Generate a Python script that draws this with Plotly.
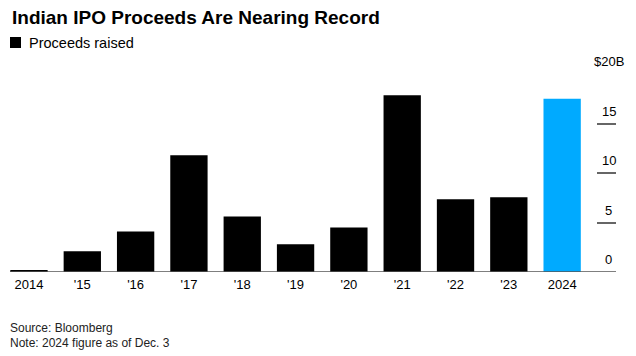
import plotly.graph_objects as go

years = ["2014", "'15", "'16", "'17", "'18", "'19", "'20", "'21", "'22", "'23", "2024"]
proceeds = [0.2, 2.1, 4.1, 11.8, 5.6, 2.8, 4.5, 17.85, 7.35, 7.55, 17.5]
colors = ["#000000"] * 10 + ["#00AAFF"]
y_ticks = [0, 5, 10, 15, 20]
y_ticktext = ["0", "5", "10", "15", "$20B"]

FONT = "Liberation Sans, Arial, sans-serif"
x_idx = list(range(len(years)))

fig = go.Figure()
fig.add_trace(go.Bar(
    x=x_idx, y=proceeds, marker=dict(color=colors, line=dict(width=0)),
    width=0.7, name="Proceeds raised", showlegend=False,
))

# page body has 8px margin: figure is offset by 8px
annotations = [
    dict(text="<b>Indian IPO Proceeds Are Nearing Record</b>", xref="paper", yref="paper",
         x=0.0, y=1, xanchor="left", yanchor="middle",
         yshift=(74 - 17), showarrow=False, font=dict(size=19, color="#000000", family=FONT)),
    dict(text="Proceeds raised", xref="paper", yref="paper",
         x=0.0, y=1, xanchor="left", yanchor="middle", xshift=17,
         yshift=(74 - 43), showarrow=False, font=dict(size=14.5, color="#000000", family=FONT)),
    dict(text="Source: Bloomberg", xref="paper", yref="paper",
         x=0.0, y=0, xanchor="left", yanchor="middle", xshift=-2,
         yshift=-(328 - 272), showarrow=False, font=dict(size=12, color="#222222", family=FONT)),
    dict(text="Note: 2024 figure as of Dec. 3", xref="paper", yref="paper",
         x=0.0, y=0, xanchor="left", yanchor="middle", xshift=-2,
         yshift=-(343 - 272), showarrow=False, font=dict(size=12, color="#222222", family=FONT)),
]
for v, t in zip(y_ticks, y_ticktext):
    annotations.append(dict(
        text=t, xref="paper", yref="y", x=1, y=v, xanchor="center", yanchor="middle",
        xshift=-7.5, yshift=12.5, showarrow=False,
        font=dict(size=13, color="#000000", family=FONT)))

fig.update_layout(
    width=628, height=348,
    margin=dict(l=2, r=20, t=66, b=84),
    paper_bgcolor="white", plot_bgcolor="white",
    font=dict(family=FONT, color="#000000", size=13),
    xaxis=dict(
        range=[-0.356, 11.01], tickmode="array", tickvals=x_idx, ticktext=years,
        showgrid=False, zeroline=False, showline=False, ticks="",
        ticklabelstandoff=3,
        tickfont=dict(size=13, color="#000000"), fixedrange=True,
    ),
    yaxis=dict(
        range=[0, 20], side="right", tickmode="array", tickvals=y_ticks,
        showticklabels=False,
        ticks="inside", ticklen=19, tickcolor="#666666", tickwidth=1.5,
        showgrid=False, zeroline=False, showline=False,
    ),
    shapes=[
        dict(type="line", xref="paper", yref="y", x0=0, x1=1, y0=0, y1=0,
             line=dict(color="#555555", width=1.5)),
        dict(type="rect", xref="paper", yref="paper", xsizemode="pixel", ysizemode="pixel",
             xanchor=0, yanchor=1, x0=0, x1=11, y0=26, y1=37,
             fillcolor="#000000", line=dict(width=0)),
    ],
    annotations=annotations,
)

fig.write_html("out.html")
